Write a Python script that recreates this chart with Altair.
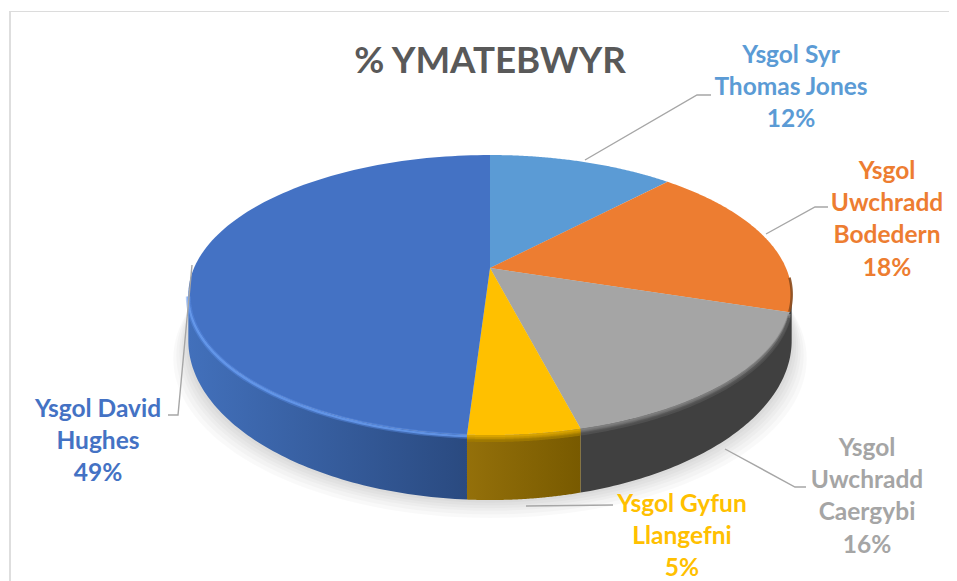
import math
import altair as alt
import pandas as pd

# ---- values and labels ----
names = [["Ysgol Syr", "Thomas Jones"], ["Ysgol", "Uwchradd", "Bodedern"],
         ["Ysgol", "Uwchradd", "Caergybi"], ["Ysgol Gyfun", "Llangefni"],
         ["Ysgol David", "Hughes"]]
shares = [12, 18, 16, 5, 49]
face_colors = ["#5b9bd5", "#ed7d31", "#a5a5a5", "#ffc000", "#4472c4"]
text_colors = ["#5b9bd5", "#ed7d31", "#a5a5a5", "#ffc000", "#4472c4"]
label_x = [791, 887, 867, 682, 98]
label_top = [56, 172, 449, 505, 410]
leaders = [[(585, 160), (697, 95), (711, 95)],
           [(766, 234), (815, 207), (828, 207)],
           [(725, 449), (795, 487), (806, 487)],
           [(526, 506), (613, 505)],
           [(192, 265), (178, 415), (168, 415)]]
title = "% YMATEBWYR"

# ---- perspective of the disc ----
CX, CY, A, B, K, DEPTH = 490, 268, 296, 134.8, 0.193, 65
W = 941
H = 573
XS = alt.Scale(domain=[8, 949], nice=False, zero=False)
YS = alt.Scale(domain=[581, 8], nice=False, zero=False)


def rim(t, off=0.0, grow=1.0):
    w = 1 + K * math.cos(t)
    return (CX + grow * A * math.sin(t) / w, CY - B * math.cos(t) / w + off)


def depth(t):
    w = 1 + K * math.cos(t)
    return DEPTH * (0.807 / w) ** 2


def arc(t1, t2, offset=lambda t: 0.0, grow=1.0, n=80):
    return [rim(t1 + (t2 - t1) * i / n, offset(t1 + (t2 - t1) * i / n), grow) for i in range(n + 1)]


def frame(points):
    return pd.DataFrame({"x": [p[0] for p in points], "y": [p[1] for p in points],
                         "i": list(range(len(points)))})


def path(points, **mark):
    return alt.Chart(frame(points)).mark_line(clip=False, **mark).encode(
        x=alt.X("x:Q", scale=XS, axis=None),
        y=alt.Y("y:Q", scale=YS, axis=None),
        order=alt.Order("i:Q"),
    )


def polygon(points, fill, opacity=1.0):
    return path(points + points[:1], fill=fill, strokeOpacity=0, strokeWidth=0, fillOpacity=opacity)


def hgrad(c1, c2):
    return alt.Gradient(gradient="linear", x1=0, y1=0, x2=1, y2=0,
                        stops=[alt.GradientStop(color=c1, offset=0), alt.GradientStop(color=c2, offset=1)])


edges = [0.0]
for s in shares:
    edges.append(edges[-1] + s / sum(shares) * 2 * math.pi)

layers = []

# soft shadow under the disc
for off in [20, 16, 12, 9, 6, 3]:
    pts = arc(0, 2 * math.pi, lambda t: depth(t) + off * 0.9, 1 + off / 400, 160)
    layers.append(polygon(pts, "#000000", 0.024))

# side wall (the orange slice's wall is edge-on, so grey starts at the silhouette)
vis1 = math.acos(-K)
vis2 = 2 * math.pi - vis1
wall_fill = {2: "#404040", 3: hgrad("#94700a", "#785a00"), 4: hgrad("#4270bb", "#2a4a80")}
for i, fill in wall_fill.items():
    t1 = vis1 if i == 2 else edges[i]
    t2 = min(edges[i + 1], vis2)
    layers.append(polygon(arc(t1, t2) + arc(t2, t1, depth), fill))

# top face
for i in range(5):
    pts = [(CX, CY)] + arc(edges[i], edges[i + 1], n=120)
    layers.append(polygon(pts, face_colors[i]))

# bevel along the front rim
bevel = [
    (1, vis1 - 0.12, "#8a4a1c", -0.5, 2.5, 0.9),
    (2, edges[2], "#8c8c8c", 1.5, 3, 0.8),
    (2, edges[2], "#6e6e6e", 3.5, 3, 0.8),
    (2, edges[2], "#525252", 5.5, 3, 0.8),
    (3, edges[3], "#e0aa00", 1.5, 3, 0.9),
    (3, edges[3], "#c49300", 3.5, 3, 0.9),
    (3, edges[3], "#a37c00", 5.5, 3, 0.8),
    (4, edges[4], "#5b8fe6", 1.5, 5, 0.45),
    (4, edges[4], "#689cf0", 1.5, 2.2, 0.8),
]
for i, start, c, off, width, op in bevel:
    t2 = min(edges[i + 1], vis2)
    layers.append(path(arc(start, t2, lambda t: off), stroke=c, strokeWidth=width, strokeOpacity=op))

# leader lines
for pts in leaders:
    layers.append(path(pts, stroke="#a6a6a6", strokeWidth=1.4))

# chart frame
layers.append(path([(10, 581), (10, 11.5)], stroke="#dedede", strokeWidth=2))
layers.append(path([(9, 11.5), (949, 11.5)], stroke="#dcdcdc", strokeWidth=1.2))

# text
rows = []
for i, lines in enumerate(names):
    all_lines = lines + [f"{shares[i]}%"]
    for j, line in enumerate(all_lines):
        rows.append({"x": label_x[i], "y": label_top[i] + j * 32.2, "t": line, "c": text_colors[i]})
labels = alt.Chart(pd.DataFrame(rows)).mark_text(
    font="Lato", fontWeight="bold", fontSize=24.5, align="center", baseline="middle", clip=False
).encode(x=alt.X("x:Q", scale=XS, axis=None), y=alt.Y("y:Q", scale=YS, axis=None),
         text="t:N", color=alt.Color("c:N", scale=None))
layers.append(labels)

head = alt.Chart(pd.DataFrame({"x": [490], "y": [62], "t": [title]})).mark_text(
    font="Lato", fontWeight="bold", fontSize=36.7, align="center", baseline="middle", color="#595959"
).encode(x=alt.X("x:Q", scale=XS, axis=None), y=alt.Y("y:Q", scale=YS, axis=None), text="t:N")
layers.append(head)

chart = alt.layer(*layers).properties(
    width=W, height=H, padding=0, autosize=alt.AutoSizeParams(type="none"), background="#ffffff"
).configure_view(stroke=None)

chart.save("out.html", embed_options={"renderer": "svg", "actions": False})
